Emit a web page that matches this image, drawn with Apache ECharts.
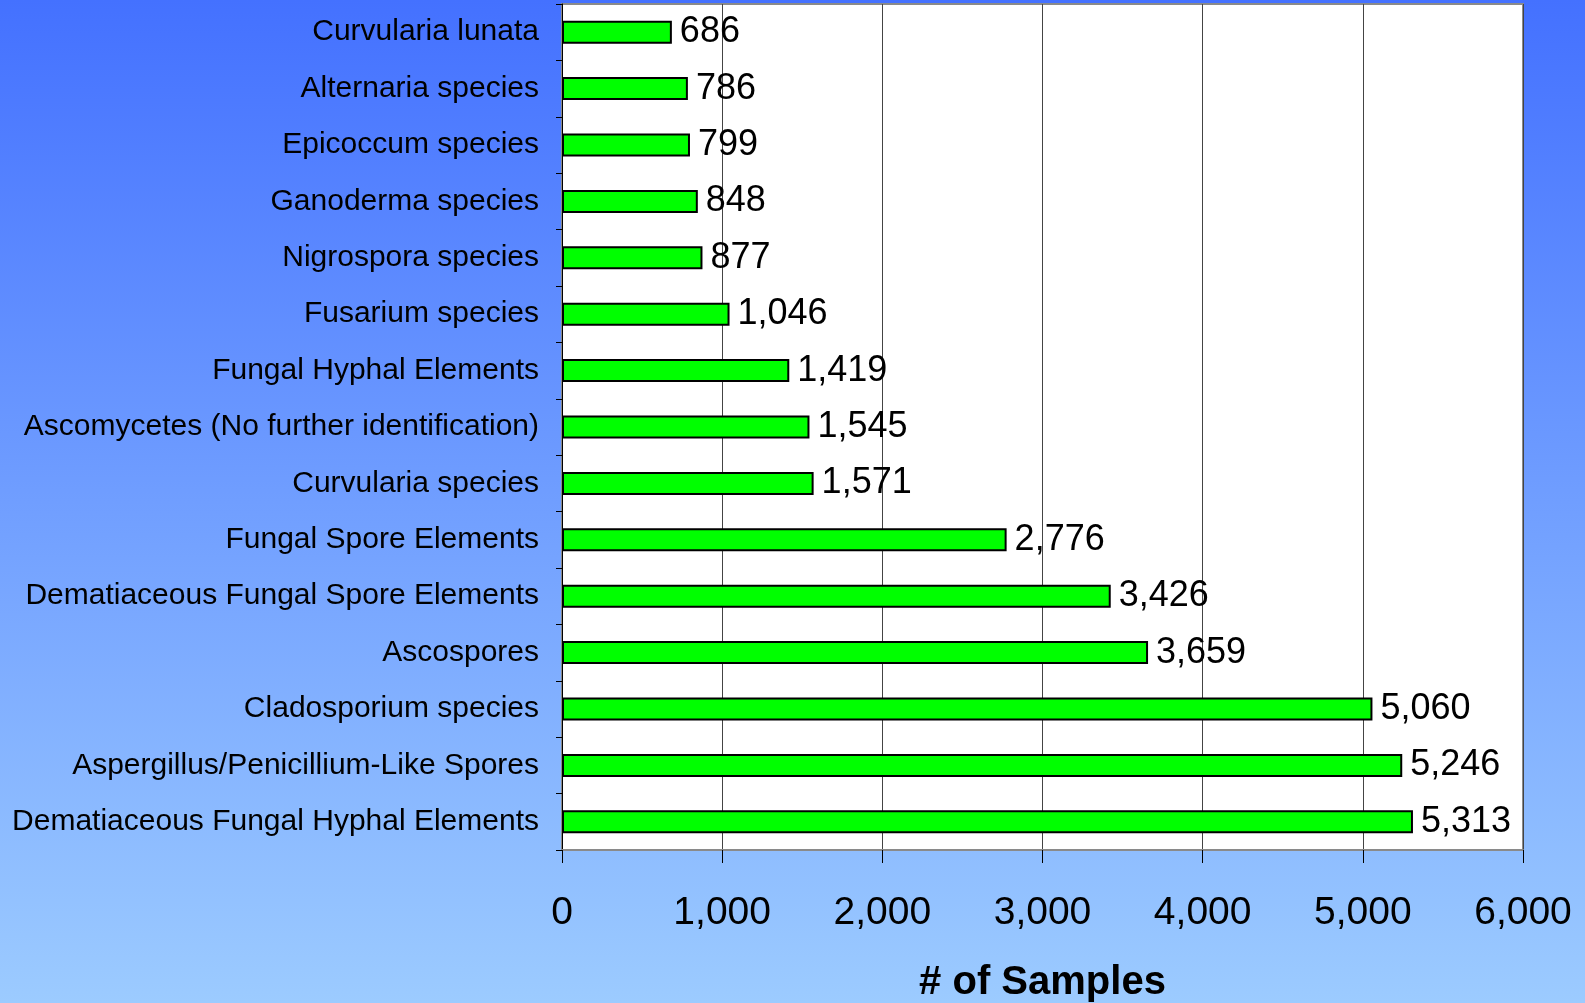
<!DOCTYPE html>
<html>
<head>
<meta charset="utf-8">
<style>
  html, body { margin: 0; padding: 0; }
  #chart { width: 1585px; height: 1003px; }
</style>
<script src="https://cdn.jsdelivr.net/npm/echarts@6/dist/echarts.min.js"></script>
</head>
<body>
<div id="chart"></div>
<script>
'use strict';

// kategorie odspodu nahoru (osa Y v ECharts zacina dole)
const categories = [
  'Dematiaceous Fungal Hyphal Elements',
  'Aspergillus/Penicillium-Like Spores',
  'Cladosporium species',
  'Ascospores',
  'Dematiaceous Fungal Spore Elements',
  'Fungal Spore Elements',
  'Curvularia species',
  'Ascomycetes (No further identification)',
  'Fungal Hyphal Elements',
  'Fusarium species',
  'Nigrospora species',
  'Ganoderma species',
  'Epicoccum species',
  'Alternaria species',
  'Curvularia lunata'
];
const sampleCounts = [5313, 5246, 5060, 3659, 3426, 2776, 1571, 1545, 1419, 1046, 877, 848, 799, 786, 686];
const xTicks = [0, 1000, 2000, 3000, 4000, 5000, 6000];
const xAxisTitle = '# of Samples';

const FONT = '"Liberation Sans", Arial, sans-serif';

function fmt(v) {
  return Number(v).toLocaleString('en-US');
}

const chart = echarts.init(document.getElementById('chart'));

chart.setOption({
  animation: false,
  backgroundColor: new echarts.graphic.LinearGradient(0, 0, 0, 1, [
    { offset: 0, color: '#4471ff' },
    { offset: 1, color: '#9ccbff' }
  ]),
  grid: {
    left: 562,
    right: 62,
    top: 4,
    bottom: 153,
    outerBoundsMode: 'none',
    containLabel: false,
    show: true,
    backgroundColor: '#ffffff',
    borderColor: '#8a8a8a',
    borderWidth: 2
  },
  xAxis: {
    type: 'value',
    min: xTicks[0],
    max: xTicks[xTicks.length - 1],
    interval: 1000,
    name: xAxisTitle,
    nameLocation: 'middle',
    nameGap: 113,
    nameTextStyle: { fontFamily: FONT, fontSize: 40, fontWeight: 'bold', color: '#000' },
    axisLine: { show: true, lineStyle: { color: '#8a8a8a', width: 2 } },
    axisTick: { show: true, length: 13, lineStyle: { color: '#000', width: 1 } },
    axisLabel: {
      margin: 44,
      fontFamily: FONT,
      fontSize: 39,
      color: '#000',
      formatter: (v) => fmt(v)
    },
    splitLine: { show: true, lineStyle: { color: '#444', width: 1 } }
  },
  yAxis: {
    type: 'category',
    data: categories,
    axisLine: { show: true, lineStyle: { color: '#000', width: 1 } },
    axisTick: { show: true, length: 6, lineStyle: { color: '#000' } },
    axisLabel: {
      margin: 23,
      fontFamily: FONT,
      fontSize: 30,
      color: '#000'
    },
    splitLine: { show: false }
  },
  series: [{
    type: 'bar',
    data: sampleCounts,
    barWidth: 23,
    itemStyle: { color: '#00ff00', borderColor: '#000', borderWidth: 2 },
    label: {
      show: true,
      position: 'right',
      distance: 8,
      fontFamily: FONT,
      fontSize: 36,
      color: '#000',
      formatter: (p) => fmt(p.value)
    }
  }]
});
</script>
</body>
</html>
